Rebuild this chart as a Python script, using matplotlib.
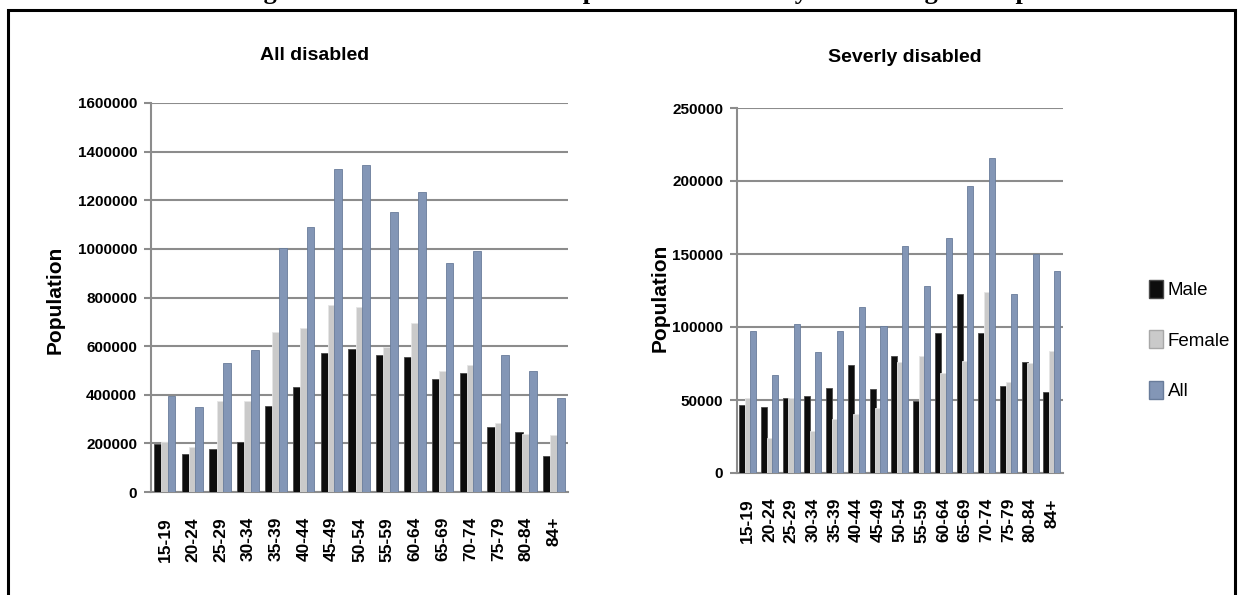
import matplotlib
matplotlib.use('Agg')
import matplotlib.pyplot as plt
from matplotlib.patches import Rectangle, Patch
import numpy as np

matplotlib.rcParams['font.family'] = ['Liberation Sans', 'DejaVu Sans']

ages = ['15-19', '20-24', '25-29', '30-34', '35-39', '40-44', '45-49', '50-54',
        '55-59', '60-64', '65-69', '70-74', '75-79', '80-84', '84+']

# all disabled
all_male = [197000, 158000, 175000, 205000, 353000, 433000, 570000, 587000,
            562000, 554000, 466000, 488000, 268000, 245000, 150000]
all_female = [206000, 185000, 374000, 374000, 657000, 673000, 768000, 760000,
              598000, 694000, 498000, 521000, 282000, 240000, 236000]
all_all = [394000, 348000, 531000, 584000, 1002000, 1090000, 1327000, 1344000,
           1153000, 1233000, 941000, 993000, 562000, 498000, 386000]

# severely disabled
sev_male = [46800, 45200, 51600, 53000, 58500, 74300, 57300, 79800,
            49300, 95900, 122600, 95900, 59600, 75900, 55500]
sev_female = [51100, 24100, 51100, 29100, 37200, 40100, 44300, 76100,
              79800, 68800, 76800, 124000, 62600, 75200, 83700]
sev_all = [97000, 67000, 102000, 82800, 97000, 114000, 100500, 155700,
           127800, 161000, 196800, 215700, 122600, 150200, 138400]

c_male = '#0d0d0d'
c_female = '#cacaca'
c_all = '#8396b6'

W, H = 1238, 595
fig = plt.figure(figsize=(W / 100, H / 100), dpi=100)
fig.patch.set_facecolor('white')


def px(x0, y0, x1, y1):
    return [x0 / W, 1 - y1 / H, (x1 - x0) / W, (y1 - y0) / H]


def draw(ax, male, female, tot, ymax, step):
    x = np.arange(len(ages))
    w = 0.28
    ax.bar(x - 0.26, male, w, color=c_male, edgecolor='#4a4a4a', linewidth=0.6, zorder=3)
    ax.bar(x, female, w, color=c_female, edgecolor='#e6e6e6', linewidth=0.6, zorder=3)
    ax.bar(x + 0.24, tot, w, color=c_all, edgecolor='#697c9a', linewidth=0.6, zorder=4)
    ax.set_xlim(-0.5, len(ages) - 0.5)
    ax.set_ylim(0, ymax)
    yt = np.arange(0, ymax + 1, step)
    ax.set_yticks(yt)
    ax.set_yticklabels([str(int(v)) for v in yt], fontsize=11, fontweight='bold')
    ax.yaxis.grid(True, color='#8c8c8c', linewidth=1.5, zorder=0)
    ax.set_axisbelow(True)
    for s in ['top', 'right']:
        ax.spines[s].set_visible(False)
    for s in ['left', 'bottom']:
        ax.spines[s].set_color('#8c8c8c')
        ax.spines[s].set_linewidth(1.5)
    ax.set_xticks(x)
    ax.set_xticklabels(ages, rotation=90, fontsize=12.5, fontweight='bold')
    ax.tick_params(axis='x', length=0, pad=18)
    ax.tick_params(axis='y', length=5, width=1.5, color='#8c8c8c', pad=5)


ax1 = fig.add_axes(px(151, 103, 568, 492))
draw(ax1, all_male, all_female, all_all, 1600000, 200000)

ax2 = fig.add_axes(px(737, 108, 1063, 473))
draw(ax2, sev_male, sev_female, sev_all, 250000, 50000)

fig.text(315 / W, 1 - 55 / H, 'All disabled', ha='center', va='center',
         fontsize=14, fontweight='bold')
fig.text(905 / W, 1 - 57 / H, 'Severly disabled', ha='center', va='center',
         fontsize=14, fontweight='bold')
fig.text(55 / W, 1 - 300 / H, 'Population', rotation=90, ha='center', va='center',
         fontsize=15, fontweight='bold')
fig.text(660 / W, 1 - 298 / H, 'Population', rotation=90, ha='center', va='center',
         fontsize=15, fontweight='bold')

handles = [Patch(facecolor=c_male, edgecolor='#4a4a4a'),
           Patch(facecolor=c_female, edgecolor='#a8a8a8'),
           Patch(facecolor=c_all, edgecolor='#697c9a')]
fig.legend(handles, ['Male', 'Female', 'All'], loc='center left',
           bbox_to_anchor=(1132 / W, 1 - 340 / H), frameon=False, fontsize=13.5,
           handlelength=0.75, handleheight=1.1, handletextpad=0.25,
           labelspacing=1.65)

# page title, mostly cut off at the top edge as in the source
fig.text(635 / W, 1 + 1 / H,
         'Figure 6: Total Number of People with a Disability in Each Age Group',
         ha='center', va='baseline', fontsize=19, fontweight='bold',
         family='Liberation Serif')

# outer frame
fig.add_artist(Rectangle((8 / W, -0.05), (1235 - 8) / W, 1.05 - 10 / H,
                         transform=fig.transFigure, fill=False,
                         edgecolor='black', linewidth=2.2))

plt.savefig('out.png', dpi=100)
